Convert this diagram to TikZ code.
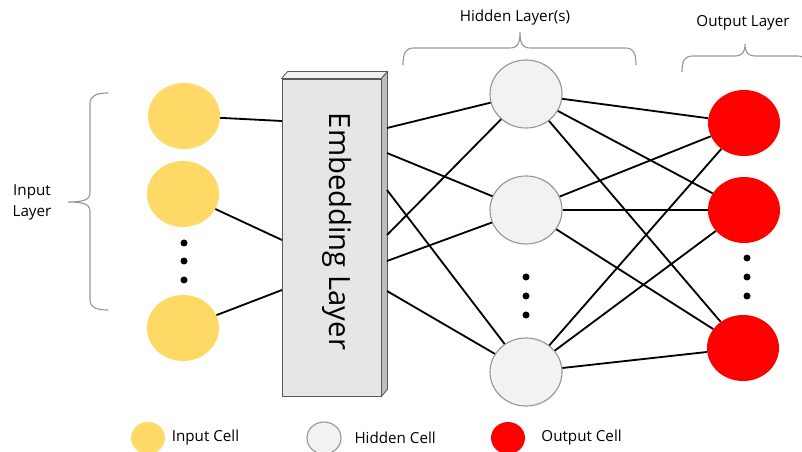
\documentclass[tikz,border=0pt]{standalone}
\usepackage{xcolor}
\usepackage{fontspec}
\setmainfont{Open Sans}
\usepackage{tikz}
\usetikzlibrary{shapes.geometric,positioning}
\definecolor{inyellow}{RGB}{255,217,102}
\definecolor{hidfill}{RGB}{242,242,242}
\definecolor{hiddraw}{RGB}{150,150,150}
\definecolor{outred}{RGB}{255,0,0}
\definecolor{boxfront}{RGB}{230,230,230}
\definecolor{boxtop}{RGB}{240,240,240}
\definecolor{boxside}{RGB}{190,190,190}
\definecolor{boxline}{RGB}{89,89,89}
\definecolor{bracegray}{RGB}{150,150,150}

\begin{document}
\begin{tikzpicture}[
			x=0.025cm, y=-0.025cm,
			font=\fontsize{10.8}{15}\selectfont,
			incell/.style={ellipse, fill=inyellow, minimum width=1.8cm, minimum height=1.65cm, inner sep=0},
			hidcell/.style={ellipse, draw=hiddraw, line width=0.8pt, fill=hidfill, minimum width=1.8cm, minimum height=1.7cm, inner sep=0},
			outcell/.style={ellipse, fill=outred, minimum width=1.8cm, minimum height=1.65cm, inner sep=0},
			keycell/.style={minimum width=0.85cm, minimum height=0.8cm},
			embbox/.style={draw=boxline, line width=0.6pt, fill=boxfront, minimum width=2.475cm, minimum height=7.925cm, inner sep=0},
			link/.style={line width=1.3pt, black},
			brace/.style={draw=bracegray, line width=0.8pt}
		]

		\path[use as bounding box] (0,0) rectangle (802,452);
		\clip (0,0) rectangle (802,452);

		% embedding block
		\node[embbox] (embed) at (331.5,237.5) {};
		\draw[boxline, line width=0.6pt, fill=boxtop] (embed.north west) -- ++(6,-7) -- ([shift={(6,-7)}]embed.north east) -- (embed.north east) -- cycle;
		\draw[boxline, line width=0.6pt, fill=boxside] (embed.north east) -- ++(6,-7) -- ([shift={(6,-7)}]embed.south east) -- (embed.south east) -- cycle;
		\node[rotate=-90, font=\fontsize{20.8}{24}\selectfont] (embedtext) at ([shift={(6,-6)}]embed.center) {Embedding Layer};

		% cells
		\node[incell] (in1) at (184,116) {};
		\node[incell] (in2) at (183,194) {};
		\node[incell] (in3) at (183,328) {};
		\node[hidcell] (h1) at (526,94) {};
		\node[hidcell] (h2) at (526,210) {};
		\node[hidcell] (h3) at (526,372) {};
		\node[outcell] (o1) at (744,123) {};
		\node[outcell] (o2) at (744,210) {};
		\node[outcell] (o3) at (743,348) {};

		\foreach \y in {243,261,280} \fill (184,\y) circle (3.5);
		\foreach \y in {277,296,315} \fill (526,\y) circle (3.5);
		\foreach \y in {258,277,296} \fill (747,\y) circle (3.5);

		% ports on the block
		\coordinate (w1) at (282,121);
		\coordinate (w2) at (282,240);
		\coordinate (w3) at (282,290);
		\coordinate (e1) at (387,128);
		\coordinate (e2) at (387,153);
		\coordinate (e3) at (387,190);
		\coordinate (e4) at (387,235);
		\coordinate (e5) at (387,261);
		\coordinate (e6) at (387,291);

		\draw[link] (in1) -- (w1);
		\draw[link] (in2) -- (w2);
		\draw[link] (in3) -- (w3);

		\draw[link] (e1) -- (h1);
		\draw[link] (e2) -- (h2);
		\draw[link] (e3) -- (h3);
		\draw[link] (e4) -- (h1);
		\draw[link] (e5) -- (h2);
		\draw[link] (e6) -- (h3);

		\draw[link] (h1) -- (o1);
		\draw[link] (h1) -- (o2);
		\draw[link] (h1) -- (o3);
		\draw[link] (h2) -- (o1);
		\draw[link] (h2) -- (o2);
		\draw[link] (h2) -- (o3);
		\draw[link] (h3) -- (o1);
		\draw[link] (h3) -- (o2);
		\draw[link] (h3) -- (o3);

		% braces and layer names
		\draw[brace] (108,93) .. controls (96,93) and (90,96) .. (90,104) -- (90,192) .. controls (90,199) and (86,202) .. (68,202)
			.. controls (86,202) and (90,205) .. (90,212) -- (90,300) .. controls (90,307) and (96,310) .. (108,310);
		\draw[brace] (403,65) .. controls (403,52) and (406,48) .. (414,48) -- (509,48) .. controls (517,48) and (520,45) .. (520,32)
			.. controls (520,45) and (523,48) .. (531,48) -- (625,48) .. controls (633,48) and (636,52) .. (636,65);
		\draw[brace] (682,72) .. controls (682,60) and (685,56) .. (693,56) -- (734,56) .. controls (742,56) and (745,53) .. (745,44)
			.. controls (745,53) and (748,56) .. (756,56) -- (797,56) .. controls (805,56) and (808,60) .. (808,72);

		\node[align=center] (inlayer) at (32,202) {Input\\Layer};
		\node (hidlayer) at (515,18) {Hidden Layer(s)};
		\node (outlayer) at (743,23) {Output Layer};

		% legend
		\node[incell, keycell] (keyin) at (148,438) {};
		\node[right=0.04cm of keyin] (keyintext) {Input Cell};
		\node[hidcell, keycell] (keyhid) at (324,438) {};
		\node[right=0.2cm of keyhid] (keyhidtext) {Hidden Cell};
		\node[outcell, keycell] (keyout) at (508,438) {};
		\node[right=0.28cm of keyout] (keyouttext) {Output Cell};

	\end{tikzpicture}
\end{document}
